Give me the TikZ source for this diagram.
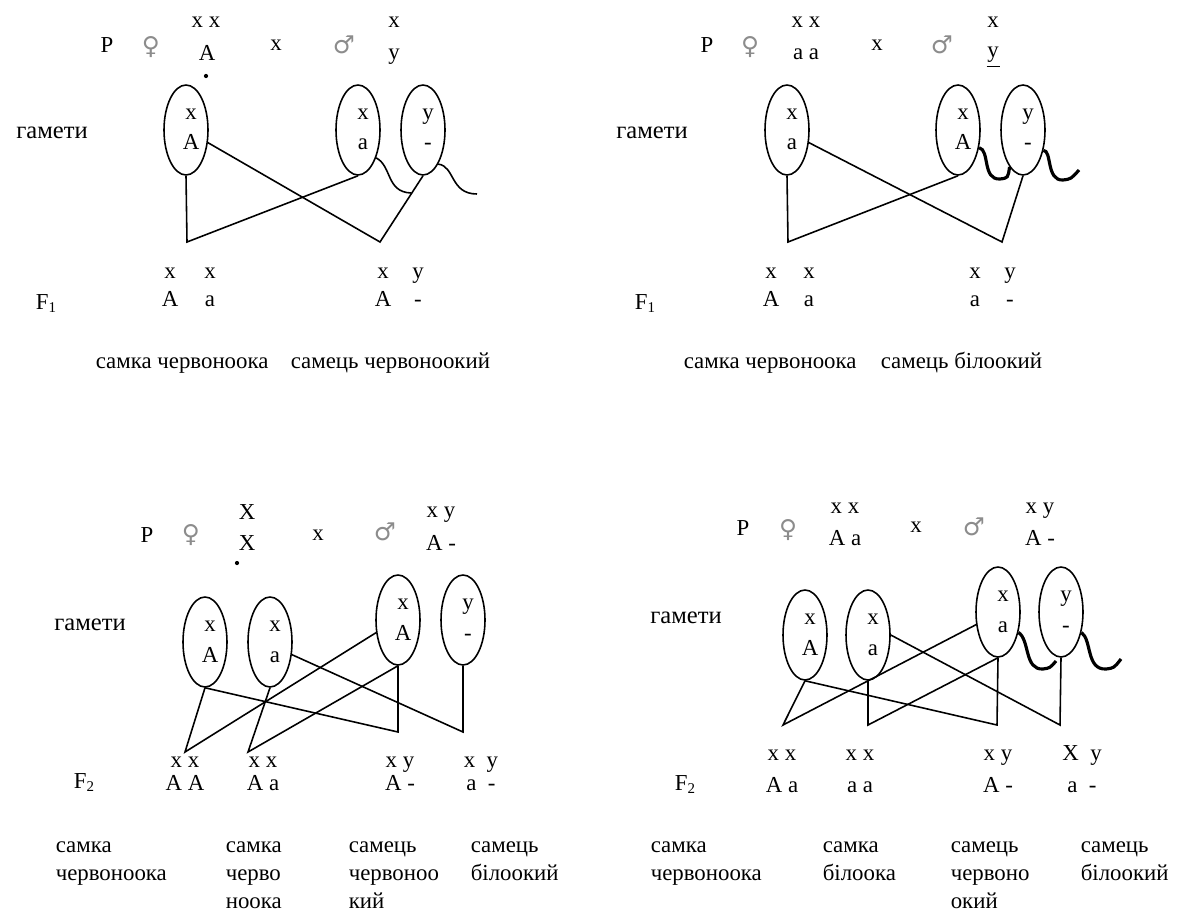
\documentclass[tikz,border=0pt]{standalone}
\usepackage{fontspec}
\setmainfont{Liberation Serif}
\newfontfamily\symbfont{DejaVu Sans}
\usetikzlibrary{shapes.geometric}

\newcommand\gen[1]{F\raisebox{-0.35ex}{\fontsize{8.5}{9}\selectfont #1}}

\begin{document}
\begin{tikzpicture}[x=0.02cm, y=-0.02cm, line width=0.9pt,
    every node/.style={inner sep=0pt, anchor=base, font=\fontsize{13}{15}\selectfont},
    gam/.style={draw, ellipse, minimum width=0.88cm, minimum height=1.8cm, anchor=center},
    sex/.style={anchor=center, text=black!45, font=\symbfont\fontsize{14}{16}\selectfont},
    gtext/.style={font=\fontsize{14}{16}\selectfont},
    capt/.style={anchor=base west},
    wavy/.style={line width=1.8pt}]
  \useasboundingbox (0,0) rectangle (1186,919);

  % first cross: female XAXA x male XaY
  \node (aP) at (107,53) {P};
  \node[sex] (aF) at (151,47) {♀};
  \node (aFt) at (206,28) {x x};
  \node (aFb) at (207,61) {A};
  \fill (206,76) circle (1.2pt);
  \node (aX) at (276,51) {x};
  \node[sex] (aM) at (344,45) {♂};
  \node (aMt) at (394,28) {x};
  \node (aMb) at (394,60) {y};
  \node[gtext] (aG) at (52,138) {гамети};
  \node[gam] (a1) at (186,130) {};
  \node[gam] (a2) at (358,130) {};
  \node[gam] (a3) at (423,130) {};
  \foreach \n/\t/\b in {a1/x/A, a2/x/a, a3/y/-}{
    \node (\n-t) at ([xshift=0.1cm, yshift=0.22cm]\n.center) {\t};
    \node (\n-b) at ([xshift=0.1cm, yshift=-0.4cm]\n.center) {\b};
  }
  \coordinate (aC1) at (187,242);
  \coordinate (aC2) at (380,242);
  \draw (a1.south) -- (aC1) -- (a2.south);
  \draw (a1.-30) -- (aC2) -- (a3.south);
  \coordinate (aW1) at (411,193);
  \coordinate (aW2) at (477,194);
  \draw (a2.-57) .. controls (392,166) and (386,192) .. (aW1);
  \draw (a3.-66) .. controls (455,166) and (450,194) .. (aW2);
  \node (aF1) at (46,309) {\gen{1}};
  \foreach \n/\x/\t/\b in {aa/170/x/A, ab/210/x/a, ac/383/x/A, ad/418/y/-}{
    \node (\n-t) at (\x,278) {\t};
    \node (\n-b) at (\x,306) {\b};
  }
  \node[capt] (aS1) at (95,368) {самка червоноока};
  \node[capt] (aS2) at (290,368) {самець червоноокий};

  % second cross: female XaXa x male XAY
  \node (bP) at (707,53) {P};
  \node[sex] (bF) at (750,47) {♀};
  \node (bFt) at (806,28) {x x};
  \node (bFb) at (806,60) {a a};
  \node (bX) at (877,51) {x};
  \node[sex] (bM) at (942,45) {♂};
  \node (bMt) at (993,28) {x};
  \node (bMb) at (993,58) {y};
  \draw[line width=0.6pt] ([yshift=-1.5pt]bMb.south west) -- ([yshift=-1.5pt]bMb.south east);
  \node[gtext] (bG) at (652,138) {гамети};
  \node[gam] (b1) at (787,130) {};
  \node[gam] (b2) at (958,130) {};
  \node[gam] (b3) at (1023,130) {};
  \foreach \n/\t/\b in {b1/x/a, b2/x/A, b3/y/-}{
    \node (\n-t) at ([xshift=0.1cm, yshift=0.22cm]\n.center) {\t};
    \node (\n-b) at ([xshift=0.1cm, yshift=-0.4cm]\n.center) {\b};
  }
  \coordinate (bC1) at (788,242);
  \coordinate (bC2) at (1002,242);
  \draw (b1.south) -- (bC1) -- (b2.south);
  \draw (b1.-30) -- (bC2) -- (b3.south);
  \coordinate (bW) at (1079,170);
  \draw[wavy] (b2.-40) .. controls (990,150) and (982,180) .. (1000,179) .. controls (1008,178) .. (b3.-110);
  \draw[wavy] (b3.-45) .. controls (1052,150) and (1046,181) .. (1063,180) .. controls (1071,179) .. (bW);
  \node (bF1) at (645,309) {\gen{1}};
  \foreach \n/\x/\t/\b in {ba/771/x/A, bb/809/x/a, bc/975/x/a, bd/1010/y/-}{
    \node (\n-t) at (\x,278) {\t};
    \node (\n-b) at (\x,306) {\b};
  }
  \node[capt] (bS1) at (683,368) {самка червоноока};
  \node[capt] (bS2) at (880,368) {самець білоокий};

  % third cross: F1 x F1 from the first
  \node (cP) at (147,542) {P};
  \node[sex] (cF) at (191,535) {♀};
  \node (cFt) at (247,519) {X};
  \node (cFb) at (247,550) {X};
  \fill (237,563) circle (1.2pt);
  \node (cX) at (318,540) {x};
  \node[sex] (cM) at (385,532) {♂};
  \node (cMt) at (441,517) {x y};
  \node (cMb) at (441,550) {A -};
  \node[gtext] (cG) at (90,630) {гамети};
  \node[gam] (c1) at (205,642) {};
  \node[gam] (c2) at (270,642) {};
  \node[gam] (c3) at (398,620) {};
  \node[gam] (c4) at (463,620) {};
  \foreach \n/\t/\b in {c1/x/A, c2/x/a, c3/x/A, c4/y/-}{
    \node (\n-t) at ([xshift=0.1cm, yshift=0.22cm]\n.center) {\t};
    \node (\n-b) at ([xshift=0.1cm, yshift=-0.4cm]\n.center) {\b};
  }
  \coordinate (cK1) at (185,752);
  \coordinate (cK2) at (248,752);
  \coordinate (cK3) at (398,732);
  \coordinate (cK4) at (463,732);
  \draw (c1.south) -- (cK1) -- (c3.-150);
  \draw (c2.south) -- (cK2) -- (c3.south);
  \draw (c1.south) -- (cK3) -- (c3.south);
  \draw (c2.-30) -- (cK4) -- (c4.south);
  \node (cF2) at (84,788) {\gen{2}};
  \foreach \n/\x/\t/\b in {ca/185/x x/A A, cb/263/x x/A a, cc/400/x y/A -, cd/481/x~~y/a~~-}{
    \node (\n-t) at (\x,767) {\t};
    \node (\n-b) at (\x,790) {\b};
  }
  \foreach \n/\x/\l in {cq1/55/{самка,червоноока}, cq2/225/{самка,черво,ноока},
      cq3/348/{самець,червоноо,кий}, cq4/470/{самець,білоокий}}{
    \foreach \w [count=\i] in \l
      \node[capt] (\n-\i) at (\x,{824+28*\i}) {\w};
  }

  % fourth cross: F1 x F1 from the second
  \node (dP) at (743,535) {P};
  \node[sex] (dF) at (788,530) {♀};
  \node (dFt) at (845,513) {x x};
  \node (dFb) at (845,545) {A a};
  \node (dX) at (916,532) {x};
  \node[sex] (dM) at (974,527) {♂};
  \node (dMt) at (1040,513) {x y};
  \node (dMb) at (1040,545) {A -};
  \node[gtext] (dG) at (686,623) {гамети};
  \node[gam] (d1) at (805,635) {};
  \node[gam] (d2) at (868,635) {};
  \node[gam] (d3) at (998,612) {};
  \node[gam] (d4) at (1061,612) {};
  \foreach \n/\t/\b in {d1/x/A, d2/x/a, d3/x/a, d4/y/-}{
    \node (\n-t) at ([xshift=0.1cm, yshift=0.22cm]\n.center) {\t};
    \node (\n-b) at ([xshift=0.1cm, yshift=-0.4cm]\n.center) {\b};
  }
  \coordinate (dK1) at (783,725);
  \coordinate (dK2) at (868,725);
  \coordinate (dK3) at (997,725);
  \coordinate (dK4) at (1060,725);
  \draw (d1.south) -- (dK1) -- (d3.-150);
  \draw (d1.south) -- (dK3) -- (d3.south);
  \draw (d2.south) -- (dK2) -- (d3.south);
  \draw (d2.east) -- (dK4) -- (d4.south);
  \coordinate (dW1) at (1056,661);
  \coordinate (dW2) at (1121,659);
  \draw[wavy] (d3.-45) .. controls (1030,640) and (1024,670) .. (1043,669) .. controls (1050,668) .. (dW1);
  \draw[wavy] (d4.-45) .. controls (1092,640) and (1086,670) .. (1106,669) .. controls (1114,668) .. (dW2);
  \node (dF2) at (685,790) {\gen{2}};
  \foreach \n/\x/\t/\b in {da/782/x x/A a, db/860/x x/a a, dc/998/x y/A -, dd/1082/X~~y/a~~-}{
    \node (\n-t) at (\x,760) {\t};
    \node (\n-b) at (\x,792) {\b};
  }
  \foreach \n/\x/\l in {dq1/650/{самка,червоноока}, dq2/822/{самка,білоока},
      dq3/950/{самець,червоно,окий}, dq4/1080/{самець,білоокий}}{
    \foreach \w [count=\i] in \l
      \node[capt] (\n-\i) at (\x,{824+28*\i}) {\w};
  }
\end{tikzpicture}
\end{document}
